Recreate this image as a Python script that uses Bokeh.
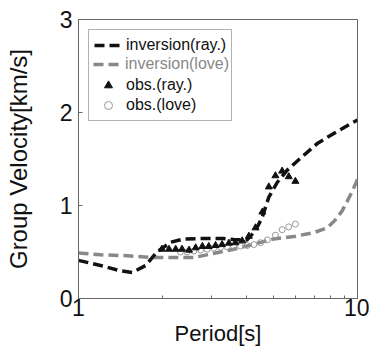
from bokeh.plotting import figure
from bokeh.models import Legend, LegendItem, FixedTicker, PrintfTickFormatter, Range1d
from bokeh.embed import file_html
from bokeh.resources import INLINE

# ---- data ----
period_inv_ray = [1.0, 1.2, 1.4, 1.56, 1.74, 1.91, 2.14, 2.38, 2.8, 3.3, 3.6, 4.02, 4.31, 4.55, 4.81, 5.16, 5.6, 6.2, 7.2, 8.5, 10.0]
vel_inv_ray = [0.41, 0.355, 0.30, 0.28, 0.355, 0.50, 0.605, 0.64, 0.645, 0.645, 0.635, 0.63, 0.73, 0.87, 1.09, 1.25, 1.38, 1.50, 1.67, 1.80, 1.92]

period_inv_love = [1.0, 1.2, 1.5, 1.86, 2.2, 2.59, 3.0, 3.6, 4.2, 5.0, 6.0, 7.0, 7.8, 8.3, 8.8, 9.2, 9.6, 10.0]
vel_inv_love = [0.49, 0.47, 0.46, 0.44, 0.44, 0.44, 0.48, 0.53, 0.58, 0.64, 0.67, 0.71, 0.76, 0.84, 0.94, 1.05, 1.16, 1.28]

period_obs_ray = [1.99, 2.11, 2.23, 2.35, 2.49, 2.63, 2.78, 2.93, 3.10, 3.27, 3.46, 3.65, 3.86, 4.08, 4.31, 4.56, 4.81, 5.08, 5.37, 5.67, 5.99]
vel_obs_ray = [0.53, 0.53, 0.53, 0.53, 0.52, 0.545, 0.56, 0.56, 0.57, 0.58, 0.595, 0.60, 0.62, 0.67, 0.76, 0.93, 1.20, 1.32, 1.37, 1.31, 1.26]

period_obs_love = [2.32, 2.45, 2.59, 2.74, 2.89, 3.05, 3.23, 3.41, 3.60, 3.81, 4.02, 4.25, 4.49, 4.75, 5.08, 5.37, 5.67, 5.99]
vel_obs_love = [0.50, 0.50, 0.51, 0.52, 0.53, 0.54, 0.55, 0.555, 0.56, 0.565, 0.57, 0.58, 0.60, 0.63, 0.68, 0.74, 0.77, 0.80]

x_major_ticks = [1, 10]
x_minor_ticks = [2, 3, 4, 5, 6, 7, 8, 9]
y_major_ticks = [0, 1, 2, 3]

FONT = "Liberation Sans"
FRAME = "#666666"

p = figure(width=369, height=351, x_axis_type="log",
           x_range=Range1d(1, 10), y_range=Range1d(0, 3),
           output_backend="svg", toolbar_location=None,
           min_border_left=78, min_border_right=12,
           min_border_top=19, min_border_bottom=53)
p.grid.visible = False
p.outline_line_color = FRAME
p.outline_line_width = 1
p.background_fill_color = "white"
p.border_fill_color = "white"

r_love = p.line(period_inv_love, vel_inv_love, line_color="#888888", line_width=3.5, line_dash="10 5")
r_ray = p.line(period_inv_ray, vel_inv_ray, line_color="#111111", line_width=3.5, line_dash="10 5")
r_circ = p.scatter(period_obs_love, vel_obs_love, marker="circle", size=6,
                   fill_color=None, line_color="#999999", line_width=1)
r_tri = p.scatter(period_obs_ray, vel_obs_ray, marker="triangle", size=7,
                  fill_color="#111111", line_color="#111111")

# axes
xa = p.xaxis[0]
xa.ticker = FixedTicker(ticks=x_major_ticks, minor_ticks=x_minor_ticks)
xa.formatter = PrintfTickFormatter(format="%d")
xa.axis_label = "Period[s]"
ya = p.yaxis[0]
ya.ticker = FixedTicker(ticks=y_major_ticks, minor_ticks=[])
ya.formatter = PrintfTickFormatter(format="%d")
ya.axis_label = "Group Velocity[km/s]"

for ax in (xa, ya):
    ax.axis_line_color = FRAME
    ax.major_tick_line_color = FRAME
    ax.minor_tick_line_color = FRAME
    ax.major_tick_in = 4
    ax.major_tick_out = 0
    ax.minor_tick_in = 3
    ax.minor_tick_out = 0
    ax.major_label_text_font = FONT
    ax.major_label_text_font_size = "23px"
    ax.major_label_text_color = "#111111"
    ax.axis_label_text_font = FONT
    ax.axis_label_text_font_style = "normal"
    ax.axis_label_text_color = "#111111"

xa.axis_label_text_font_size = "22px"
ya.axis_label_text_font_size = "24px"
xa.major_label_standoff = 0
xa.axis_label_standoff = 2
ya.major_label_standoff = 6
ya.axis_label_standoff = 25

common = dict(label_text_font=FONT, label_text_font_size="16px",
              glyph_width=28, glyph_height=20, label_height=20,
              label_standoff=4, spacing=0)

legend_a = Legend(items=[
    LegendItem(label="inversion(ray.)", renderers=[r_ray]),
    LegendItem(label=" ", renderers=[r_love]),
    LegendItem(label="obs.(ray.)", renderers=[r_tri]),
    LegendItem(label="obs.(love)", renderers=[r_circ]),
], location="top_left", margin=10, padding=5,
   border_line_color=FRAME, border_line_width=1,
   background_fill_color="white", background_fill_alpha=1,
   label_text_color="#111111", **common)
p.add_layout(legend_a, "center")

legend_b = Legend(items=[
    LegendItem(label="inversion(love)", renderers=[r_love]),
], location=(15, 224), margin=0, padding=0,
   border_line_alpha=0,
   background_fill_color="white", background_fill_alpha=1,
   label_text_color="#888888", **common)
p.add_layout(legend_b, "center")

open("out.html", "w").write(file_html(p, INLINE))
